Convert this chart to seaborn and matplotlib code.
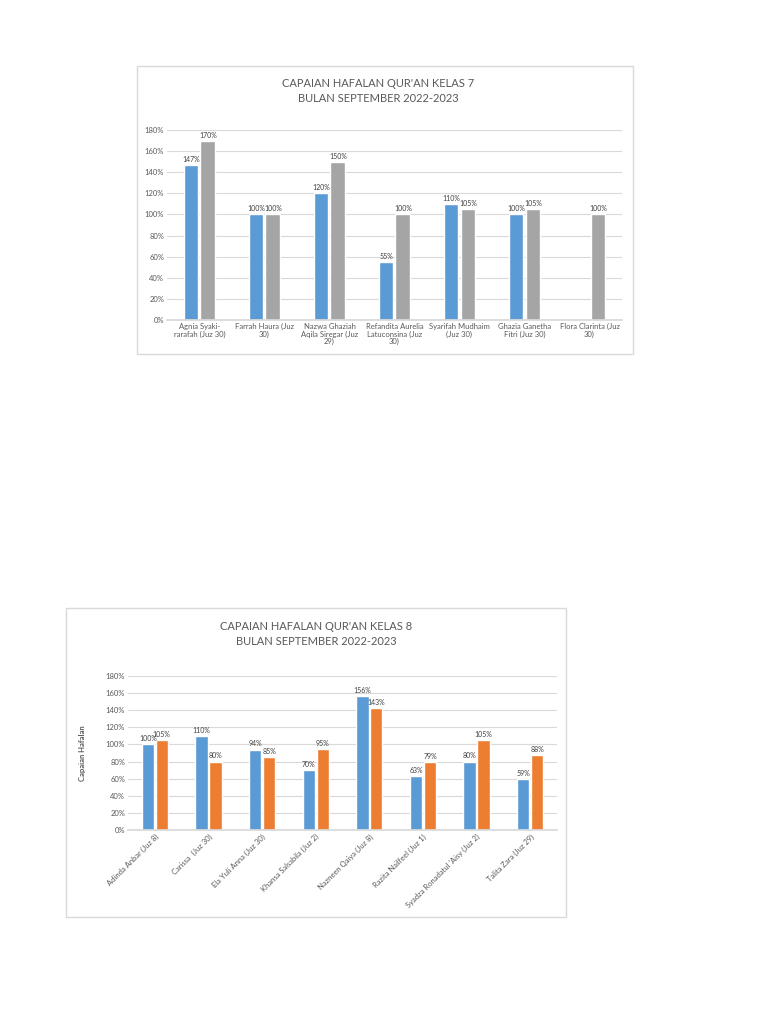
import pandas as pd
import seaborn as sns
import matplotlib.pyplot as plt
from matplotlib.patches import Rectangle

# data
kelas7_names = ["Agnia Syaki-\nrarafah (Juz 30)", "Farrah Haura (Juz\n30)",
                "Nazwa Ghaziah\nAqila Siregar (Juz\n29)", "Refandita Aurelia\nLatuconsina (Juz\n30)",
                "Syarifah Mudhaim\n(Juz 30)", "Ghazia Ganetha\nFitri (Juz 30)", "Flora Clarinta (Juz\n30)"]
kelas7_s1 = [147, 100, 120, 55, 110, 100, None]
kelas7_s2 = [170, 100, 150, 100, 105, 105, 100]

kelas8_names = ["Adinda Anbar (Juz 8)", "Carissa  (Juz 30)", "Ela Yuli Anna (Juz 30)",
                "Khansa Salsabila (Juz 2)", "Nazneen Qaiya (Juz 8)", "Razita Nailfeel (Juz 1)",
                "Syadza Ronadatul 'Aisy (Juz 2)", "Talita Zara (Juz 29)"]
kelas8_s1 = [100, 110, 94, 70, 156, 63, 80, 59]
kelas8_s2 = [105, 80, 85, 95, 143, 79, 105, 88]

series = ["Seri 1", "Seri 2"]
y_ticks = [0, 20, 40, 60, 80, 100, 120, 140, 160, 180]

TXT = "#595959"
GRID = "#d9d9d9"

sns.set_theme(style="white")
plt.rcParams["font.family"] = ["Lato", "DejaVu Sans"]


def make_df(names, s1, s2):
    df = pd.DataFrame({
        "nama": names + names,
        "seri": [series[0]] * len(names) + [series[1]] * len(names),
        "nilai": s1 + s2,
    })
    return df.dropna()


def draw_chart(ax, names, s1, s2, colors, rotate=False):
    df = make_df(names, s1, s2)
    sns.barplot(data=df, x="nama", y="nilai", hue="seri", order=names, hue_order=series,
                palette=colors, width=0.52, gap=0.12, errorbar=None, legend=False,
                saturation=1, ax=ax)
    for c in ax.containers:
        ax.bar_label(c, fmt="%.0f%%", fontsize=5, color="#404040", padding=1.5)
    ax.set_ylim(0, 180)
    ax.set_yticks(y_ticks)
    ax.set_yticklabels([f"{t}%" for t in y_ticks], fontsize=5.5, color=TXT)
    ax.grid(axis="y", color=GRID, linewidth=0.8)
    ax.set_axisbelow(True)
    ax.patch.set_alpha(0)
    sns.despine(ax=ax, left=True)
    ax.spines["bottom"].set_color(GRID)
    ax.tick_params(axis="both", length=0, pad=2)
    ax.set_xlabel("")
    ax.set_ylabel("")
    ax.set_xticks(range(len(names)))
    if rotate:
        ax.set_xticklabels(names, rotation=45, ha="right", rotation_mode="anchor",
                           fontsize=5.5, color=TXT)
    else:
        ax.set_xticklabels(names, fontsize=5.5, color=TXT, linespacing=1.1)


fig = plt.figure(figsize=(7.68, 10.24), dpi=100)

# chart frames
fig.patches.append(Rectangle((0.1784, 0.6543), 0.6458, 0.2812, transform=fig.transFigure,
                             facecolor="none", edgecolor=GRID, linewidth=1, zorder=-1))
fig.patches.append(Rectangle((0.0859, 0.1045), 0.6511, 0.3018, transform=fig.transFigure,
                             facecolor="none", edgecolor=GRID, linewidth=1, zorder=-1))

ax1 = fig.add_axes([0.2174, 0.6875, 0.5925, 0.1855])
draw_chart(ax1, kelas7_names, kelas7_s1, kelas7_s2, ["#5B9BD5", "#A5A5A5"])
fig.text(0.492, 0.911, "CAPAIAN HAFALAN QUR'AN KELAS 7\nBULAN SEPTEMBER 2022-2023",
         ha="center", va="center", fontsize=8, color=TXT, linespacing=1.45)

ax2 = fig.add_axes([0.1667, 0.1895, 0.5586, 0.1504])
draw_chart(ax2, kelas8_names, kelas8_s1, kelas8_s2, ["#5B9BD5", "#ED7D31"], rotate=True)
ax2.set_ylabel("Capaian Hafalan", fontsize=5.5, fontweight="bold", color=TXT, labelpad=14)
fig.text(0.412, 0.381, "CAPAIAN HAFALAN QUR'AN KELAS 8\nBULAN SEPTEMBER 2022-2023",
         ha="center", va="center", fontsize=8, color=TXT, linespacing=1.45)

fig.savefig("out.png", dpi=100)
